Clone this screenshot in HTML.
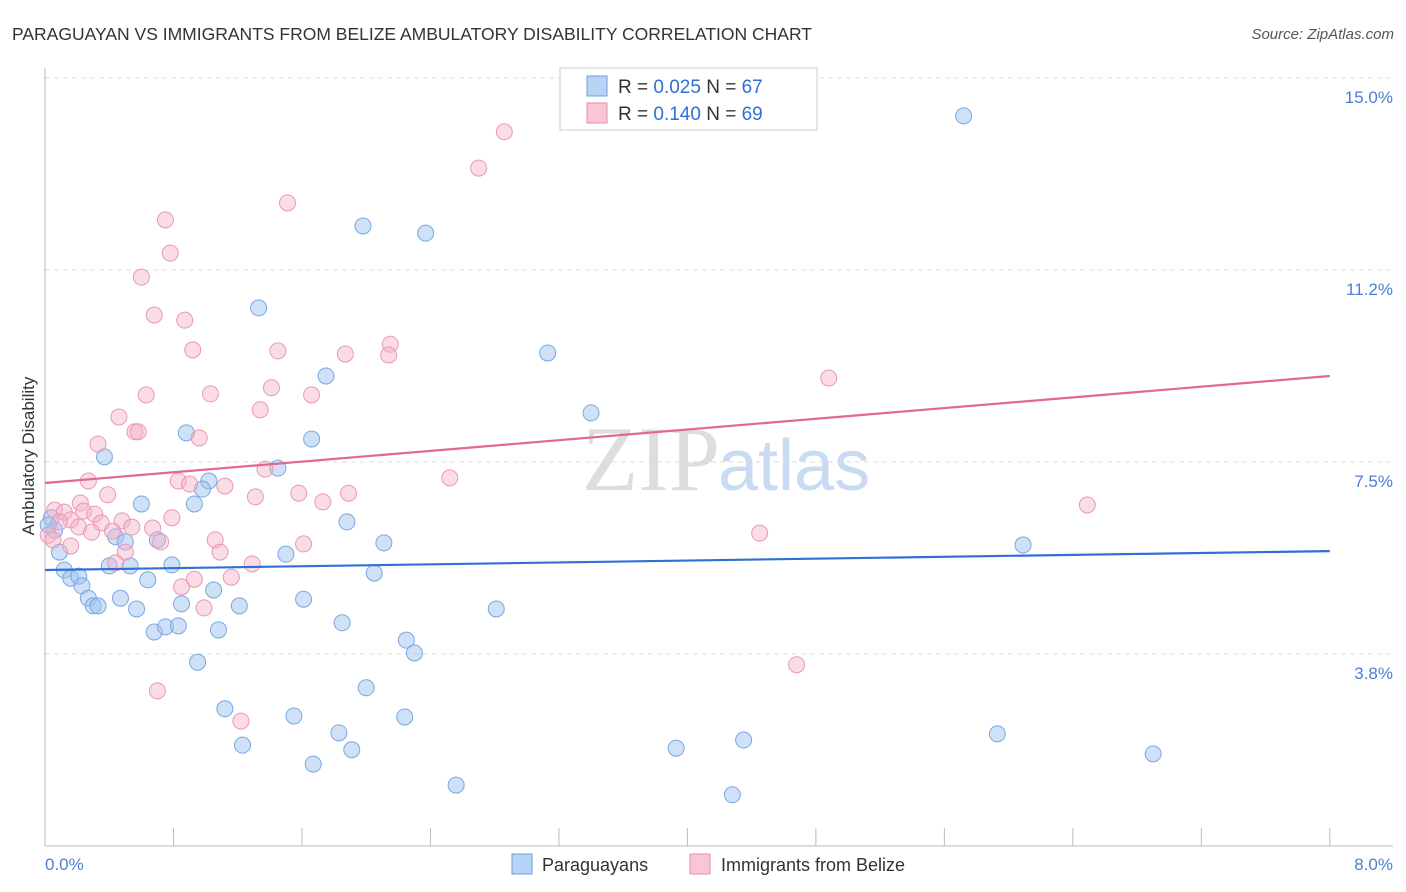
<!DOCTYPE html>
<html><head><meta charset="utf-8"><style>
body{margin:0;background:#fff;font-family:"Liberation Sans",sans-serif;}
#wrap{position:relative;width:1406px;height:892px;overflow:hidden;}
</style></head><body>
<div id="wrap">
<svg id="svg" width="1406" height="892" xmlns="http://www.w3.org/2000/svg">
<text x="12" y="40" font-size="17.5" fill="#333">PARAGUAYAN VS IMMIGRANTS FROM BELIZE AMBULATORY DISABILITY CORRELATION CHART</text>
<text x="1394" y="39" font-size="15" fill="#555" font-style="italic" text-anchor="end">Source: ZipAtlas.com</text>
<text x="720" y="490" font-size="92" fill="#ddd" text-anchor="end" font-family="Liberation Serif">ZIP</text>
<text x="718" y="490" font-size="72" fill="#c9daf3">atlas</text>
<text transform="translate(34,456) rotate(-90)" font-size="17" fill="#333" text-anchor="middle">Ambulatory Disability</text>
<g id="grid"></g><g id="pts"></g><g id="lines"></g>
<g>
<rect x="560" y="68" width="257" height="62" fill="#fff" stroke="#ccc"/>
<rect x="587" y="76" width="20" height="20" fill="#b8d3f5" stroke="#6d9fe0"/>
<text x="618" y="93" font-size="19" fill="#333">R = <tspan fill="#2f6fd6">0.025</tspan>   N = <tspan fill="#2f6fd6">67</tspan></text>
<rect x="587" y="103" width="20" height="20" fill="#f8c6d5" stroke="#e88aa8"/>
<text x="618" y="120" font-size="19" fill="#333">R =  <tspan fill="#2f6fd6">0.140</tspan>   N = <tspan fill="#2f6fd6">69</tspan></text>
</g>
<g>
<rect x="512" y="854" width="20" height="20" fill="#b8d3f5" stroke="#6d9fe0"/>
<text x="542" y="871" font-size="18" fill="#333">Paraguayans</text>
<rect x="690" y="854" width="20" height="20" fill="#f8c6d5" stroke="#e88aa8"/>
<text x="721" y="871" font-size="18" fill="#333">Immigrants from Belize</text>
</g>
<text x="45" y="870" font-size="17" fill="#4a7fd4">0.0%</text>
<text x="1393" y="870" font-size="17" fill="#4a7fd4" text-anchor="end">8.0%</text>
</svg></div>
<script>
const yTicks=[15.0,11.25,7.5,3.75];
const yTickLabels=["15.0%","11.2%","7.5%","3.8%"];
const blueX=[5.72,1.98,2.37,1.33,3.13,1.75,3.40,0.88,1.66,0.37,1.02,1.45,0.98,0.93,0.60,1.88,0.04,0.06,0.09,0.44,0.50,0.70,2.11,6.09,1.50,0.12,0.16,0.21,0.23,0.40,0.53,0.79,0.64,2.05,0.27,0.47,0.30,0.33,0.57,0.85,1.05,1.21,1.61,2.81,1.85,0.68,0.75,0.83,1.08,2.25,2.30,0.95,2.00,1.12,1.55,2.24,1.83,1.23,1.91,3.93,4.35,5.93,6.90,1.67,2.56,4.28,0.02];
const blueY=[14.26,12.11,11.97,10.51,9.63,9.18,8.46,8.07,7.95,7.60,7.13,7.38,6.97,6.68,6.68,6.33,6.41,6.17,5.74,6.04,5.94,5.98,5.92,5.88,5.70,5.39,5.23,5.27,5.08,5.47,5.47,5.49,5.20,5.33,4.84,4.84,4.69,4.69,4.63,4.73,5.00,4.69,4.82,4.63,4.36,4.18,4.28,4.30,4.22,4.02,3.77,3.59,3.09,2.68,2.54,2.52,2.21,1.97,1.88,1.91,2.07,2.19,1.80,1.60,1.19,1.00,6.27];
const pinkX=[2.86,2.70,1.51,0.75,0.78,0.60,0.68,0.87,0.92,1.45,1.87,2.15,2.14,4.88,1.41,1.03,0.63,1.66,1.34,0.46,0.56,0.58,0.96,0.33,1.37,2.52,0.27,0.83,0.90,1.12,0.39,1.58,1.89,1.31,0.22,1.73,6.49,0.06,0.12,0.24,0.31,0.48,0.35,0.54,0.67,0.79,0.16,0.21,0.29,0.42,0.02,0.05,1.06,4.45,0.72,1.09,0.50,1.61,0.16,0.44,1.29,0.93,1.16,0.85,0.99,4.68,0.70,1.22,0.09];
const pinkY=[13.95,13.24,12.56,12.23,11.58,11.11,10.37,10.27,9.69,9.67,9.61,9.80,9.59,9.14,8.95,8.83,8.81,8.81,8.52,8.38,8.09,8.09,7.97,7.85,7.36,7.19,7.13,7.13,7.07,7.03,6.86,6.89,6.89,6.82,6.70,6.72,6.66,6.56,6.52,6.54,6.48,6.35,6.31,6.23,6.21,6.41,6.37,6.23,6.13,6.15,6.07,5.98,5.98,6.11,5.94,5.74,5.74,5.90,5.86,5.53,5.51,5.21,5.25,5.06,4.65,3.54,3.03,2.44,6.33];
const blueTrend=[5.39,5.76];
const pinkTrend=[7.09,9.18];
const NS="http://www.w3.org/2000/svg";
const X=v=>45+v*160.6, Y=v=>846-v*51.2;
function mk(t,a,p){const e=document.createElementNS(NS,t);for(const k in a)e.setAttribute(k,a[k]);p.appendChild(e);return e;}
const grid=document.getElementById('grid');
yTicks.forEach((t,i)=>{
 const l=mk('line',{x1:45,x2:1393,y1:Y(t),y2:Y(t),stroke:'#ddd','stroke-dasharray':'5,4'},grid);
 
 
 const tx=mk('text',{x:1393,y:Y(t)+25,'font-size':17,fill:'#4a7fd4','text-anchor':'end'},grid);
 tx.textContent=yTickLabels[i];
 
 
});
const ax=mk('line',{x1:45,x2:45,y1:68,y2:846,stroke:'#bbb'},grid);


const bx=mk('line',{x1:45,x2:1393,y1:846,y2:846,stroke:'#bbb'},grid);


for(let i=0;i<=10;i++){const xv=i*0.8;
 const t=mk('line',{x1:X(xv),x2:X(xv),y1:828,y2:846,stroke:'#bbb'},grid);
 
 }
const pts=document.getElementById('pts');
blueX.forEach((v,i)=>{const c=mk('circle',{cx:X(v),cy:Y(blueY[i]),r:8,fill:'rgba(160,196,240,0.5)',stroke:'#7aa7e3','stroke-width':1},pts);
 
 });
pinkX.forEach((v,i)=>{const c=mk('circle',{cx:X(v),cy:Y(pinkY[i]),r:8,fill:'rgba(245,178,200,0.45)',stroke:'#eb98b3','stroke-width':1},pts);
 
 });
const lines=document.getElementById('lines');
const bl=mk('line',{x1:X(0),x2:X(8),y1:Y(blueTrend[0]),y2:Y(blueTrend[1]),stroke:'#2f6fd6','stroke-width':2.2},lines);


const pl=mk('line',{x1:X(0),x2:X(8),y1:Y(pinkTrend[0]),y2:Y(pinkTrend[1]),stroke:'#e2688f','stroke-width':2.2},lines);


</script>
</body></html>
